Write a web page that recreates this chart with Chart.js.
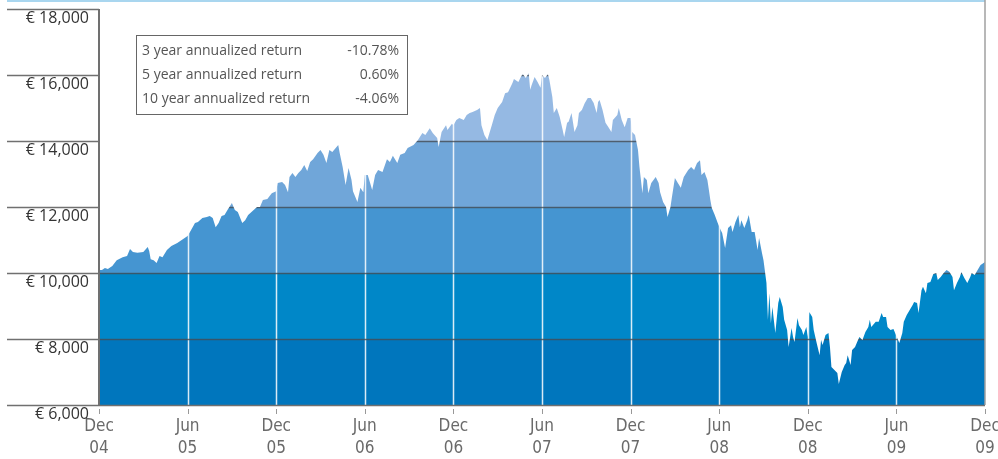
<!DOCTYPE html>
<html>
<head>
<meta charset="utf-8">
<script src="https://cdn.jsdelivr.net/npm/chart.js@4.4.1/dist/chart.umd.min.js"></script>
<style>
html, body { margin: 0; padding: 0; background: #fff; }
</style>
</head>
<body>
<canvas id="navChart" width="998" height="459"></canvas>
<script>
// Value of EUR 10,000 invested, months since Dec 04 -> euros
const navSeries = [
  [0.0,10090],[0.2,10090],[0.4,10150],[0.6,10120],[0.9,10210],[1.2,10390],[1.6,10480],[1.9,10515],
  [2.1,10730],[2.3,10640],[2.6,10610],[3.0,10640],[3.3,10790],[3.4,10670],[3.5,10420],[3.7,10390],
  [3.9,10300],[4.1,10515],[4.3,10480],[4.6,10700],[4.9,10820],[5.3,10910],[5.6,11000],[5.8,11060],
  [6.0,11120],[6.2,11270],[6.5,11515],[6.7,11545],[7.0,11665],[7.3,11700],[7.5,11730],[7.7,11665],
  [7.9,11390],[8.1,11515],[8.3,11725],[8.5,11760],[8.7,11910],[9.0,12120],[9.2,11910],[9.4,11850],
  [9.7,11515],[9.9,11600],[10.1,11760],[10.4,11880],[10.7,12000],[10.9,12000],[11.1,12210],[11.4,12240],
  [11.7,12420],[12.0,12480],[12.1,12730],[12.4,12760],[12.6,12670],[12.8,12450],[12.9,12910],[13.1,13030],
  [13.3,12910],[13.5,13030],[13.7,13120],[13.9,13270],[14.1,13090],[14.3,13360],[14.5,13450],[14.8,13640],
  [15.0,13730],[15.2,13580],[15.4,13330],[15.6,13730],[15.8,13670],[16.2,13880],[16.3,13640],[16.5,13210],
  [16.7,12670],[16.9,13180],[17.1,12820],[17.2,12480],[17.5,12150],[17.7,12580],[17.9,12450],[18.0,12970],
  [18.2,12970],[18.5,12515],[18.7,12970],[18.9,13120],[19.2,13060],[19.5,13450],[19.7,13360],[19.9,13550],
  [20.2,13330],[20.4,13580],[20.7,13640],[20.9,13790],[21.3,13880],[21.6,14030],[21.9,14240],[22.1,14180],
  [22.4,14390],[22.6,14240],[22.9,14090],[23.0,13820],[23.2,14270],[23.5,14480],[23.6,14330],[23.9,14520],
  [24.0,14480],[24.2,14640],[24.4,14700],[24.7,14640],[24.9,14790],[25.1,14850],[25.3,14880],[25.6,14940],
  [25.8,15000],[25.9,14480],[26.1,14180],[26.3,14030],[26.6,14480],[26.8,14790],[27.0,15000],[27.3,15180],
  [27.5,15450],[27.7,15480],[28.0,15760],[28.1,15880],[28.4,15790],[28.6,15970],[28.7,16030],[28.9,15910],
  [29.1,16060],[29.2,15550],[29.3,15700],[29.5,15940],[29.7,15790],[29.9,15610],[30.0,16000],[30.2,15910],
  [30.4,16030],[30.5,15850],[30.7,15330],[30.8,14850],[31.0,15000],[31.2,14730],[31.4,14330],[31.5,14120],
  [31.7,14550],[31.8,14580],[32.0,14850],[32.2,14270],[32.4,14480],[32.5,14850],[32.7,14940],[32.9,15150],
  [33.1,15300],[33.3,15300],[33.5,15150],[33.7,14850],[33.8,15180],[33.9,15240],[34.1,14940],[34.3,14550],
  [34.5,14420],[34.7,14270],[34.8,14640],[35.1,14790],[35.2,15000],[35.4,14640],[35.6,14420],[35.8,14700],
  [36.0,14700],[36.1,14270],[36.3,14180],[36.5,13730],[36.6,13210],[36.8,12420],[36.9,12910],[37.1,12820],
  [37.2,12420],[37.4,12730],[37.7,12910],[37.9,12730],[38.0,12450],[38.2,12150],[38.4,12000],[38.5,11700],
  [38.7,12000],[38.8,12300],[39.0,12880],[39.2,12730],[39.4,12580],[39.6,12910],[39.9,13120],[40.1,13210],
  [40.3,13120],[40.5,13330],[40.7,13420],[40.8,12970],[41.0,13060],[41.2,12820],[41.3,12520],[41.4,12210],
  [41.5,11970],[41.7,11760],[41.9,11515],[42.1,11300],[42.2,11210],[42.4,10760],[42.6,11360],[42.8,11450],
  [42.9,11240],[43.1,11545],[43.3,11760],[43.4,11390],[43.5,11600],[43.7,11360],[43.9,11600],[44.0,11760],
  [44.2,11240],[44.4,11240],[44.6,10700],[44.7,11060],[44.9,10600],[45.0,10390],[45.2,9700],[45.3,8580],
  [45.4,9390],[45.5,8480],[45.6,8970],[45.8,8180],[46.0,9090],[46.1,9270],[46.3,8970],[46.4,8580],
  [46.6,8270],[46.7,7760],[46.9,8330],[47.0,8060],[47.1,7910],[47.3,8640],[47.4,8420],[47.6,8270],
  [47.7,8120],[47.9,8360],[48.0,8060],[48.1,8820],[48.3,8670],[48.4,8270],[48.6,7880],[48.8,7510],
  [48.9,7970],[49.0,7820],[49.2,8120],[49.4,8180],[49.5,7760],[49.6,7150],[49.8,7060],[50.0,6970],
  [50.1,6640],[50.3,7000],[50.5,7210],[50.6,7270],[50.7,7510],[50.9,7210],[51.0,7670],[51.2,7760],
  [51.4,7970],[51.5,8060],[51.7,7970],[51.9,8210],[52.1,8360],[52.2,8580],[52.3,8360],[52.6,8520],
  [52.8,8520],[53.0,8790],[53.1,8670],[53.3,8670],[53.4,8360],[53.6,8270],[53.8,8300],[54.0,8090],
  [54.2,7880],[54.4,8180],[54.5,8520],[54.7,8730],[54.9,8880],[55.1,9030],[55.2,9120],[55.4,9090],
  [55.5,8790],[55.7,9480],[55.8,9580],[56.0,9390],[56.1,9700],[56.3,9730],[56.5,9970],[56.7,10000],
  [56.8,9790],[57.0,9880],[57.2,10000],[57.4,10090],[57.6,10030],[57.8,9880],[57.9,9480],[58.1,9700],
  [58.3,9880],[58.4,10030],[58.6,9850],[58.8,9700],[59.0,9880],[59.1,10000],[59.3,9940],[59.5,10090],
  [59.7,10240],[59.9,10300],[60.0,10330]
];

const xTickLabels = [['Dec','04'],['Jun','05'],['Dec','05'],['Jun','06'],['Dec','06'],['Jun','07'],
                     ['Dec','07'],['Jun','08'],['Dec','08'],['Jun','09'],['Dec','09']];
const xTickMonths = xTickLabels.map((l, i) => i * 6);
const yTickValues = [6000, 8000, 10000, 12000, 14000, 16000, 18000];

const returnLabels = ['3 year annualized return', '5 year annualized return', '10 year annualized return'];
const returnValues = ['-10.78%', '0.60%', '-4.06%'];

// fill colour for each band between y ticks, bottom to top
const bandColors = ['#0076bd', '#0087c8', '#4595d1', '#70a6d9', '#95b9e3', '#b4cdeb'];

function bandGradient(c) {
    const chart = c.chart;
    const a = chart.chartArea;
    if (!a) return bandColors[0];
    const y = chart.scales.y;
    const span = a.bottom - a.top;
    const g = chart.ctx.createLinearGradient(0, a.bottom, 0, a.top);
    const clamp = t => Math.min(1, Math.max(0, t));
    for (let i = 0; i < bandColors.length; i++) {
        g.addColorStop(clamp((a.bottom - y.getPixelForValue(yTickValues[i])) / span), bandColors[i]);
        g.addColorStop(clamp((a.bottom - y.getPixelForValue(yTickValues[i + 1])) / span), bandColors[i]);
    }
    return g;
}

function hLine(ctx, x1, x2, y) { ctx.beginPath(); ctx.moveTo(x1, y); ctx.lineTo(x2, y); ctx.stroke(); }
function vLine(ctx, x, y1, y2) { ctx.beginPath(); ctx.moveTo(x, y1); ctx.lineTo(x, y2); ctx.stroke(); }

const framePlugin = {
    id: 'frame',
    afterDatasetsDraw(chart) {
        // grid lines only show on top of the filled area
        const { ctx, chartArea: a, scales: { x, y } } = chart;
        ctx.save();
        ctx.beginPath();
        ctx.rect(a.left, a.top, a.right - a.left, a.bottom - a.top);
        ctx.clip();
        ctx.globalCompositeOperation = 'source-atop';
        ctx.lineWidth = 1.5;
        ctx.strokeStyle = 'rgba(255,255,255,0.85)';
        xTickMonths.slice(1, -1).forEach(m => vLine(ctx, Math.round(x.getPixelForValue(m)) + 0.5, a.top, a.bottom));
        ctx.strokeStyle = 'rgba(70,76,84,0.8)';
        yTickValues.slice(1, -1).forEach(v => hLine(ctx, a.left, a.right, Math.round(y.getPixelForValue(v)) + 0.5));
        ctx.restore();
    },
    afterDraw(chart) {
        const { ctx, chartArea: a, scales: { x, y } } = chart;
        ctx.save();

        // top rule and right border
        ctx.strokeStyle = '#a9d6ef';
        ctx.lineWidth = 2;
        hLine(ctx, 7, a.right, 1);
        ctx.strokeStyle = '#a0a0a0';
        ctx.lineWidth = 1.5;
        vLine(ctx, a.right, 0, a.bottom);

        // y axis: tick rules left of the axis + labels
        ctx.strokeStyle = '#707070';
        ctx.lineWidth = 1.5;
        ctx.font = '16px "Open Sans"';
        ctx.fillStyle = '#333';
        ctx.textAlign = 'right';
        ctx.textBaseline = 'middle';
        yTickValues.forEach(v => {
            const py = Math.round(y.getPixelForValue(v)) + 0.5;
            hLine(ctx, 7, v === yTickValues[0] ? a.right : a.left, py);
            ctx.fillText('\u20ac ' + v.toLocaleString('en-US'), 89, py + 9);
        });
        ctx.lineWidth = 2;
        vLine(ctx, a.left, a.top, a.bottom);

        // small x tick marks below the axis
        ctx.strokeStyle = '#999';
        ctx.lineWidth = 1;
        xTickMonths.forEach(m => vLine(ctx, Math.round(x.getPixelForValue(m)) + 0.5, a.bottom + 4, a.bottom + 9));

        // annualized return box
        ctx.strokeStyle = '#666';
        ctx.lineWidth = 1;
        ctx.strokeRect(136.5, 35.5, 271, 79);
        ctx.font = '14px "Open Sans"';
        ctx.fillStyle = '#555';
        returnLabels.forEach((lbl, i) => {
            const ty = 51 + i * 24;
            ctx.textAlign = 'left';
            ctx.fillText(lbl, 142, ty);
            ctx.textAlign = 'right';
            ctx.fillText(returnValues[i], 399, ty);
        });
        ctx.restore();
    }
};

new Chart(document.getElementById('navChart').getContext('2d'), {
    type: 'line',
    data: {
        datasets: [{
            data: navSeries.map(p => ({ x: p[0], y: p[1] })),
            fill: 'start',
            backgroundColor: bandGradient,
            borderWidth: 0,
            pointRadius: 0,
            tension: 0
        }]
    },
    options: {
        responsive: false,
        animation: false,
        layout: { padding: { left: 99, right: 13, top: 9, bottom: 0 } },
        plugins: {
            legend: { display: false },
            tooltip: { enabled: false }
        },
        scales: {
            x: {
                type: 'linear',
                min: 0,
                max: 60,
                grid: { display: false, drawTicks: false },
                border: { display: false },
                ticks: {
                    stepSize: 6,
                    autoSkip: false,
                    maxRotation: 0,
                    padding: 11,
                    color: '#6a6a6a',
                    font: { family: '"Liberation Sans Narrow", "DejaVu Sans Condensed", Roboto', size: 17, lineHeight: '22px' },
                    callback: v => xTickLabels[v / 6]
                },
                afterFit(s) { s.height = 54; s.paddingLeft = 0; s.paddingRight = 0; }
            },
            y: {
                display: false,
                min: 6000,
                max: 18000
            }
        }
    },
    plugins: [framePlugin]
});
</script>
</body>
</html>
